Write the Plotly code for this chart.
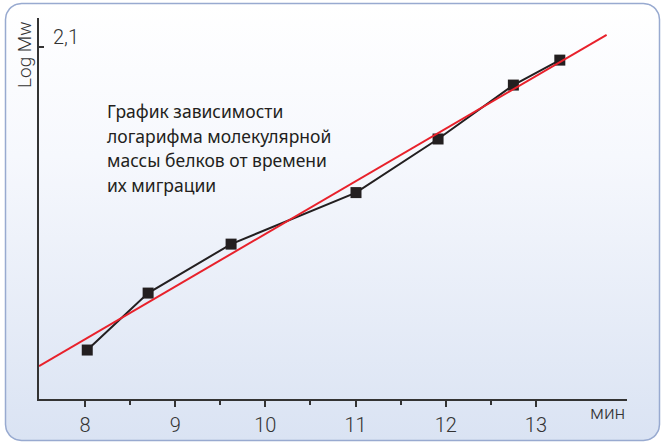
import numpy as np
import plotly.graph_objects as go

# ---- data ----
time_min = [8.025, 8.70, 9.62, 11.005, 11.915, 12.75, 13.265]
log_mw = [1.153, 1.331, 1.484, 1.645, 1.8125, 1.981, 2.059]
fit_x = [7.49, 13.784]
fit_y = [1.103, 2.138]
x_ticks = [8, 9, 10, 11, 12, 13]
x_minor = [8.5, 9.5, 10.5, 11.5, 12.5]
y_tick = [2.1]
y_tick_text = ["2,1"]
x_unit = "мин"
y_title = "Log Mw"
note_lines = ["График зависимости", "логарифма молекулярной", "массы белков от времени", "их миграции"]

W, H = 664, 445
fig = go.Figure()

# ---- rounded panel background (pixel coords on hidden full-page axes) ----
x0, x1, y0, y1, r = 5.5, 659.5, 3.5, 440.5, 16
def arc(cx, cy, a0, a1):
    t = np.linspace(np.radians(a0), np.radians(a1), 12)
    return cx + r * np.cos(t), cy + r * np.sin(t)
pts = [arc(x1 - r, y0 + r, -90, 0), arc(x1 - r, y1 - r, 0, 90),
       arc(x0 + r, y1 - r, 90, 180), arc(x0 + r, y0 + r, 180, 270)]
bx = np.concatenate([p[0] for p in pts] + [pts[0][0][:1]])
by = np.concatenate([p[1] for p in pts] + [pts[0][1][:1]])
fig.add_trace(go.Scatter(
    x=bx, y=by, mode="lines", fill="toself", xaxis="x", yaxis="y",
    line=dict(color="#98aad0", width=1.5), hoverinfo="skip", showlegend=False,
    fillgradient=dict(type="vertical", start=y0, stop=y1,
                      colorscale=[[0, "#ffffff"], [0.35, "#f6f8fd"], [1, "#dae3f3"]]),
))

# ---- data traces ----
fig.add_trace(go.Scatter(
    x=time_min, y=log_mw, mode="lines+markers", xaxis="x2", yaxis="y2",
    line=dict(color="#231f20", width=2),
    marker=dict(symbol="square", size=11, color="#231f20"),
    showlegend=False, cliponaxis=False))
fig.add_trace(go.Scatter(
    x=fit_x, y=fit_y, mode="lines", xaxis="x2", yaxis="y2",
    line=dict(color="#e8212b", width=2), showlegend=False))

axis_col = "#333333"
num_font = dict(family="Roboto", size=20, color="#333333", weight=300)
annotations = [
    dict(x=51, y=51, xref="x", yref="y", text=y_tick_text[0], showarrow=False,
         xanchor="left", yanchor="bottom", font=num_font),
    dict(x=24, y=55, xref="x", yref="y", text=y_title, showarrow=False, textangle=-90,
         font=dict(family="Roboto", size=19, color="#333333", weight=300)),
    dict(x=627, y=412, xref="x", yref="y", text=x_unit, showarrow=False, xanchor="right",
         font=dict(family="Roboto", size=19, color="#333333", weight=300)),
]
for i, line in enumerate(note_lines):
    annotations.append(dict(x=105, y=111 + 24.5 * i, xref="x", yref="y", text=line, showarrow=False,
                            xanchor="left", yanchor="middle",
                            font=dict(family="Noto Sans", size=17.5, color="#231f20")))

fig.update_layout(
    width=W, height=H, margin=dict(l=0, r=0, t=0, b=0),
    paper_bgcolor="white", plot_bgcolor="rgba(0,0,0,0)",
    xaxis=dict(domain=[0, 1], range=[0, W], visible=False, fixedrange=True),
    yaxis=dict(domain=[0, 1], range=[H, 0], visible=False, fixedrange=True),
    xaxis2=dict(domain=[39 / W, 627 / W], range=[7.49, 14.01], anchor="y2",
                showgrid=False, zeroline=False, showline=True, linecolor=axis_col, linewidth=1.5,
                tickvals=x_ticks, ticks="outside", ticklen=6, tickwidth=1.5, tickcolor=axis_col,
                ticklabelstandoff=1, tickfont=num_font,
                minor=dict(tickvals=x_minor, ticks="outside", ticklen=4, tickwidth=1.5, tickcolor=axis_col)),
    yaxis2=dict(domain=[1 - 399 / H, 1 - 18 / H], range=[1.0, 2.1906], anchor="x2",
                showgrid=False, zeroline=False, showline=True, linecolor=axis_col, linewidth=1.5,
                tickvals=y_tick, ticktext=[""], ticks="inside", ticklen=5, tickwidth=1.5, tickcolor=axis_col),
    annotations=annotations,
)
fig.write_html("out.html")
